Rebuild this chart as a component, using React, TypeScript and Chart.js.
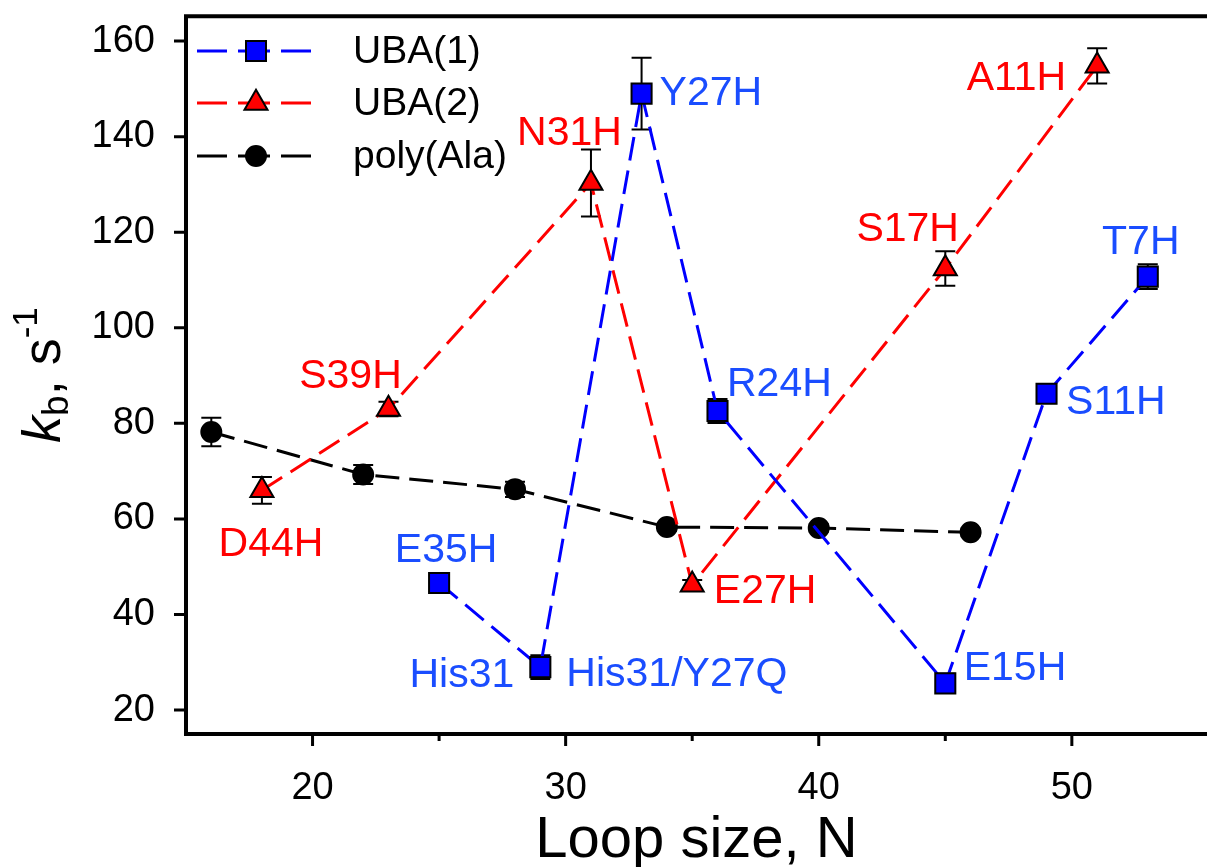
import React, { useEffect, useRef } from 'react';
import { Chart, registerables } from 'chart.js';

Chart.register(...registerables);

// ---- data ----
const uba1X = [25, 29, 33, 36, 45, 49, 53];
const uba1Y = [46.6, 29.0, 149.0, 82.6, 25.6, 86.2, 110.7];
const uba1Err = [1.5, 2.5, 7.5, 2.5, 2.0, 1.5, 2.6];

const uba2X = [18, 23, 31, 35, 45, 51];
const uba2Y = [66.0, 83.0, 130.3, 46.2, 112.4, 154.8];
const uba2Err = [2.8, 1.5, 7.0, 1.0, 3.6, 3.7];

const polyX = [16, 22, 28, 34, 40, 46];
const polyY = [78.2, 69.3, 66.2, 58.3, 58.1, 57.2];
const polyErr = [3.0, 2.0, 1.6, 0.8, 0.8, 0.8];

const seriesNames = ['UBA(1)', 'UBA(2)', 'poly(Ala)'];
const xTickLabels = [20, 30, 40, 50];
const xMinorTicks = [25, 35, 45];
const yTickLabels = [20, 40, 60, 80, 100, 120, 140, 160];

// point annotations: text, series, point index
const labelTexts = ['E35H', 'His31', 'His31/Y27Q', 'Y27H', 'R24H', 'E15H', 'S11H', 'T7H', 'D44H', 'S39H', 'N31H', 'E27H', 'S17H', 'A11H'];
const labelSeries = [0, 0, 0, 0, 0, 0, 0, 0, 1, 1, 1, 1, 1, 1];
const labelIndex = [0, 1, 1, 2, 3, 4, 5, 6, 0, 1, 2, 3, 4, 5];
// label placement relative to its point (pixels)
const labelAlign: CanvasTextAlign[] = ['center', 'right', 'left', 'left', 'left', 'left', 'left', 'center', 'center', 'center', 'center', 'left', 'center', 'right'];
const labelDx = [7, -26, 26, 18, 9.5, 18.4, 19.5, -7, 9, -38, -21.5, 21.6, -37.6, -31];
const labelDy = [-21, 20, 19, 11, -15, -3, 20, -23, 66, -21, -38, 18, -28, 24];

const BLUE = '#0000ff';
const RED = '#ff0000';
const BLACK = '#000000';
const BLUE_TEXT = '#1a4dff';
const FONT = '"Liberation Sans", Arial, sans-serif';

const seriesColors = [BLUE, RED, BLACK];
const textColors = [BLUE_TEXT, RED, BLACK];
const seriesStyles = ['rect', 'triangle', 'circle'];

function drawMarker(ctx: CanvasRenderingContext2D, style: string, x: number, y: number, color: string) {
  ctx.save();
  ctx.fillStyle = color;
  ctx.strokeStyle = BLACK;
  ctx.lineWidth = 2;
  ctx.setLineDash([]);
  ctx.beginPath();
  if (style === 'rect') {
    ctx.rect(x - 10, y - 10, 20, 20);
  } else if (style === 'triangle') {
    const r = 13.3;
    ctx.moveTo(x, y - r);
    ctx.lineTo(x + r * Math.sin((2 * Math.PI) / 3), y - r * Math.cos((2 * Math.PI) / 3));
    ctx.lineTo(x + r * Math.sin((4 * Math.PI) / 3), y - r * Math.cos((4 * Math.PI) / 3));
    ctx.closePath();
  } else {
    ctx.arc(x, y, 10, 0, Math.PI * 2);
  }
  ctx.fill();
  ctx.stroke();
  ctx.restore();
}

const decorPlugin = {
  id: 'decor',
  beforeDatasetsDraw(chart: any) {
    const ctx: CanvasRenderingContext2D = chart.ctx;
    const xs = chart.scales.x;
    const ys = chart.scales.y;
    const all = [
      [uba1X, uba1Y, uba1Err],
      [uba2X, uba2Y, uba2Err],
      [polyX, polyY, polyErr],
    ];
    ctx.save();
    ctx.strokeStyle = BLACK;
    ctx.lineWidth = 2;
    all.forEach(([xa, ya, ea]) => {
      xa.forEach((xv, i) => {
        const px = xs.getPixelForValue(xv);
        const t = ys.getPixelForValue(ya[i] + ea[i]);
        const b = ys.getPixelForValue(ya[i] - ea[i]);
        ctx.beginPath();
        ctx.moveTo(px, t);
        ctx.lineTo(px, b);
        ctx.moveTo(px - 10, t);
        ctx.lineTo(px + 10, t);
        ctx.moveTo(px - 10, b);
        ctx.lineTo(px + 10, b);
        ctx.stroke();
      });
    });
    ctx.restore();
  },
  afterDraw(chart: any) {
    const ctx: CanvasRenderingContext2D = chart.ctx;
    const area = chart.chartArea;
    const xs = chart.scales.x;
    const ys = chart.scales.y;
    const W = chart.width;
    ctx.save();
    // frame
    ctx.strokeStyle = BLACK;
    ctx.lineWidth = 4;
    ctx.beginPath();
    ctx.moveTo(W, area.top);
    ctx.lineTo(area.left, area.top);
    ctx.lineTo(area.left, area.bottom);
    ctx.lineTo(W, area.bottom);
    ctx.stroke();
    // ticks
    ctx.lineWidth = 3;
    ctx.beginPath();
    xTickLabels.forEach((v) => {
      const px = xs.getPixelForValue(v);
      ctx.moveTo(px, area.bottom);
      ctx.lineTo(px, area.bottom + 12);
    });
    xMinorTicks.forEach((v) => {
      const px = xs.getPixelForValue(v);
      ctx.moveTo(px, area.bottom);
      ctx.lineTo(px, area.bottom + 7);
    });
    yTickLabels.forEach((v) => {
      const py = ys.getPixelForValue(v);
      ctx.moveTo(area.left - 12, py);
      ctx.lineTo(area.left, py);
    });
    ctx.stroke();

    // point labels
    ctx.font = `41px ${FONT}`;
    ctx.textBaseline = 'alphabetic';
    const sx = [uba1X, uba2X, polyX];
    const sy = [uba1Y, uba2Y, polyY];
    labelTexts.forEach((t, k) => {
      const s = labelSeries[k];
      const i = labelIndex[k];
      const px = xs.getPixelForValue(sx[s][i]);
      const py = ys.getPixelForValue(sy[s][i]);
      ctx.fillStyle = textColors[s];
      ctx.textAlign = labelAlign[k];
      ctx.fillText(t, px + labelDx[k], py + labelDy[k]);
    });

    // legend
    const rowY = [51, 103, 156];
    seriesNames.forEach((name, k) => {
      const y = rowY[k];
      ctx.strokeStyle = seriesColors[k];
      ctx.lineWidth = 3;
      ctx.setLineDash([30, 11]);
      ctx.beginPath();
      ctx.moveTo(197, y);
      ctx.lineTo(256, y);
      ctx.stroke();
      ctx.beginPath();
      ctx.moveTo(311, y);
      ctx.lineTo(256, y);
      ctx.stroke();
      ctx.setLineDash([]);
      drawMarker(ctx, seriesStyles[k], 256, y, seriesColors[k]);
      ctx.fillStyle = BLACK;
      ctx.font = `39px ${FONT}`;
      ctx.textAlign = 'left';
      ctx.textBaseline = 'middle';
      ctx.fillText(name, 353, y + 1);
    });

    // x title
    ctx.fillStyle = BLACK;
    ctx.textAlign = 'center';
    ctx.textBaseline = 'alphabetic';
    ctx.font = `58px ${FONT}`;
    ctx.fillText('Loop size, N', (area.left + W) / 2, 857);

    // y title (rotated)
    const parts = [
      { t: 'k', f: `italic 54px ${FONT}`, dy: 0 },
      { t: 'b', f: `37px ${FONT}`, dy: 8 },
      { t: ', s', f: `54px ${FONT}`, dy: 0 },
      { t: '-1', f: `35px ${FONT}`, dy: -23 },
    ];
    ctx.translate(60, (area.top + area.bottom) / 2);
    ctx.rotate(-Math.PI / 2);
    let total = 0;
    parts.forEach((p) => {
      ctx.font = p.f;
      total += ctx.measureText(p.t).width;
    });
    let cx = -total / 2;
    ctx.textAlign = 'left';
    parts.forEach((p) => {
      ctx.font = p.f;
      ctx.fillText(p.t, cx, p.dy);
      cx += ctx.measureText(p.t).width;
    });
    ctx.restore();
  },
};

function makeDataset(label: string, xs: number[], ys: number[], color: string, style: string, radius: number) {
  return {
    label,
    data: xs.map((x, i) => ({ x, y: ys[i] })),
    showLine: true,
    fill: false,
    tension: 0,
    borderColor: color,
    borderWidth: 3,
    borderDash: [24, 10],
    pointStyle: style,
    pointRadius: radius,
    pointHoverRadius: radius,
    pointBackgroundColor: color,
    pointBorderColor: BLACK,
    pointBorderWidth: 2,
  };
}

export default function App() {
  const ref = useRef<HTMLCanvasElement>(null);
  useEffect(() => {
    const chart = new Chart(ref.current as HTMLCanvasElement, {
      type: 'line',
      data: {
        datasets: [
          makeDataset(seriesNames[0], uba1X, uba1Y, BLUE, 'rect', 14.2),
          makeDataset(seriesNames[1], uba2X, uba2Y, RED, 'triangle', 13.3),
          makeDataset(seriesNames[2], polyX, polyY, BLACK, 'circle', 10),
        ] as any,
      },
      options: {
        responsive: false,
        animation: false,
        events: [],
        layout: { padding: { top: 13, left: 0, right: 0, bottom: 0 } },
        plugins: { legend: { display: false }, tooltip: { enabled: false } },
        scales: {
          x: {
            type: 'linear',
            min: 15,
            max: 54.7,
            position: 'bottom',
            grid: { display: false, drawTicks: false },
            border: { display: false },
            ticks: {
              color: BLACK,
              font: { family: FONT, size: 38 },
              padding: 32,
              maxRotation: 0,
              autoSkip: false,
            },
            afterBuildTicks: (s: any) => {
              s.ticks = xTickLabels.map((v) => ({ value: v }));
            },
            afterFit: (s: any) => {
              s.height = 133;
              s.paddingLeft = 0;
              s.paddingRight = 0;
            },
          },
          y: {
            type: 'linear',
            min: 15,
            max: 165.2,
            grid: { display: false, drawTicks: false },
            border: { display: false },
            ticks: {
              color: BLACK,
              font: { family: FONT, size: 38 },
              padding: 31,
              autoSkip: false,
            },
            afterBuildTicks: (s: any) => {
              s.ticks = yTickLabels.map((v) => ({ value: v }));
            },
            afterFit: (s: any) => {
              s.width = 186;
              s.paddingTop = 0;
              s.paddingBottom = 0;
            },
          },
        },
      } as any,
      plugins: [decorPlugin],
    });
    return () => chart.destroy();
  }, []);
  return (
    <div style={{ position: 'absolute', left: 0, top: 0, width: 1207, height: 867, background: '#ffffff', overflow: 'hidden' }}>
      <canvas ref={ref} width={1207} height={867} style={{ display: 'block', width: 1207, height: 867 }} />
    </div>
  );
}
